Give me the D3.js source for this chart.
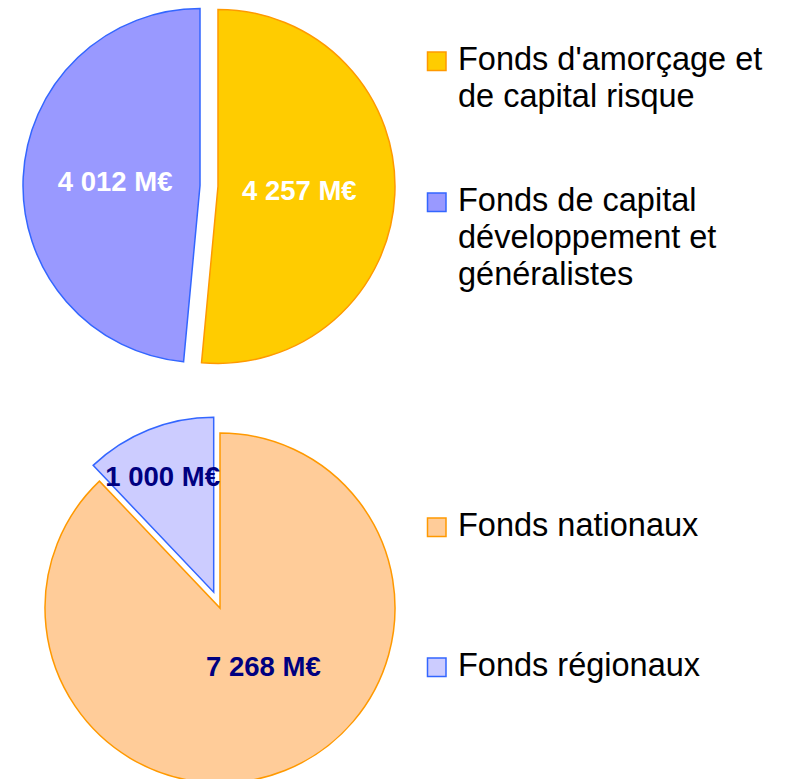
<!DOCTYPE html>
<html>
<head>
<meta charset="utf-8">
<script src="https://cdn.jsdelivr.net/npm/d3@7"></script>
<style>
  body { margin: 0; background: #fff; }
  svg { display: block; font-family: "Liberation Sans", Arial, sans-serif; }
</style>
</head>
<body>
<div id="chart"></div>
<script>
// Data for the two pies
var topCategories = [["Fonds d'amorçage et", "de capital risque"], ["Fonds de capital", "développement et", "généralistes"]];
var topValues = [4257, 4012];
var topLabels = ["4 257 M€", "4 012 M€"];

var bottomCategories = [["Fonds nationaux"], ["Fonds régionaux"]];
var bottomValues = [7268, 1000];
var bottomLabels = ["7 268 M€", "1 000 M€"];

// Set up the SVG element
var svg = d3.select("#chart")
    .append("svg")
    .attr("width", 787)
    .attr("height", 779);

var pie = d3.pie().sort(null).startAngle(0).endAngle(2 * Math.PI);

// draws one pie with its legend
function drawPie(opts) {
    var arcs = pie(opts.values);
    var arc = d3.arc().innerRadius(0).outerRadius(opts.radius);

    var g = svg.append("g")
        .attr("transform", "translate(" + opts.cx + "," + opts.cy + ")");

    var slices = g.selectAll(".slice")
        .data(arcs)
        .enter()
        .append("g")
        .attr("class", "slice")
        .attr("transform", function (d, i) {
            var mid = (d.startAngle + d.endAngle) / 2;
            var e = opts.explode[i];
            return "translate(" + (Math.sin(mid) * e) + "," + (-Math.cos(mid) * e) + ")";
        });

    slices.append("path")
        .attr("d", arc)
        .attr("fill", function (d, i) { return opts.fills[i]; })
        .attr("stroke", function (d, i) { return opts.strokes[i]; })
        .attr("stroke-width", 1.5)
        .attr("stroke-linejoin", "miter");

    // value labels
    slices.append("text")
        .attr("text-anchor", "middle")
        .attr("font-weight", "bold")
        .attr("font-size", 27.5)
        .attr("fill", opts.labelColor)
        .attr("x", function (d, i) {
            var mid = (d.startAngle + d.endAngle) / 2;
            return Math.sin(mid) * opts.radius * opts.labelR[i] + opts.labelDx[i];
        })
        .attr("y", function (d, i) {
            var mid = (d.startAngle + d.endAngle) / 2;
            return -Math.cos(mid) * opts.radius * opts.labelR[i] + 9.5;
        })
        .text(function (d, i) { return opts.labels[i]; });

    // legend
    var lg = svg.append("g").attr("class", "legend");
    var y = opts.legendY;
    opts.categories.forEach(function (lines, i) {
        lg.append("rect")
            .attr("x", 427.5)
            .attr("y", y - 18)
            .attr("width", 18.5)
            .attr("height", 18.5)
            .attr("fill", opts.fills[i])
            .attr("stroke", opts.strokes[i])
            .attr("stroke-width", 1.5);
        var t = lg.append("text")
            .attr("x", 458)
            .attr("y", y)
            .attr("font-size", 32.5)
            .attr("fill", "#000");
        lines.forEach(function (line, j) {
            t.append("tspan")
                .attr("x", 458)
                .attr("dy", j === 0 ? 0 : 37)
                .text(line);
        });
        y += (lines.length - 1) * 37 + opts.legendGap;
    });
}

drawPie({
    values: topValues, labels: topLabels, categories: topCategories,
    cx: 209, cy: 186, radius: 177,
    explode: [9, 9],
    fills: ["#ffcc00", "#9999ff"], strokes: ["#ff9900", "#3366ff"],
    labelColor: "#ffffff", labelR: [0.46, 0.48], labelDx: [0, 0],
    legendY: 70, legendGap: 104
});

drawPie({
    values: bottomValues, labels: bottomLabels, categories: bottomCategories,
    cx: 220, cy: 608, radius: 175,
    explode: [0, 17],
    fills: ["#ffcc99", "#ccccff"], strokes: ["#ff9900", "#3366ff"],
    labelColor: "#000080", labelR: [0.36, 0.71], labelDx: [20, -5],
    legendY: 536, legendGap: 140
});
</script>
</body>
</html>
